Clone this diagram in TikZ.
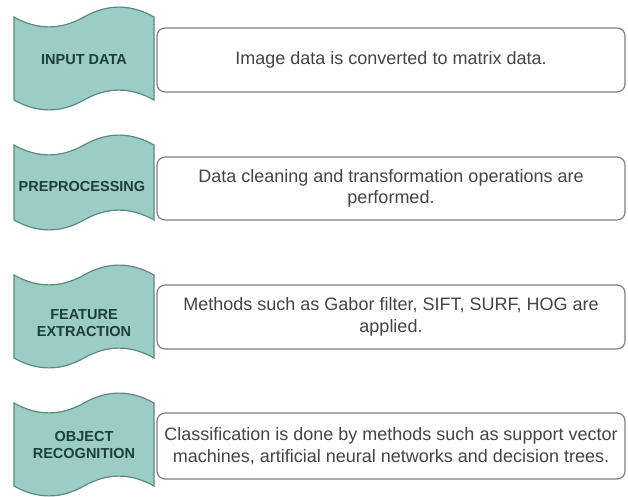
\documentclass[tikz,border=0pt]{standalone}
\usepackage{fontspec}
\setmainfont{Liberation Sans}
\definecolor{tapefill}{HTML}{9CCDC4}
\definecolor{tapeline}{HTML}{5B8A83}
\definecolor{tapetext}{HTML}{1B3F3B}
\definecolor{boxline}{HTML}{7F7F7F}
\definecolor{desctext}{HTML}{444444}
\newcommand\mytape[2]{%
\draw[tapestyle] (14,#1+11) .. controls (37.33,#1+24.2) and (60.67,#1+24.2) .. (84,#1+11)
  .. controls (107.33,#1-2.2) and (130.67,#1-2.2) .. (154,#1+11)
  -- (154,#2-11) .. controls (130.67,#2-24.2) and (107.33,#2-24.2) .. (84,#2-11)
  .. controls (60.67,#2+2.2) and (37.33,#2+2.2) .. (14,#2-11) -- cycle;}
\begin{document}
\begin{tikzpicture}[x=1bp,y=-1bp,
  tapestyle/.style={fill=tapefill,draw=tapeline,line width=1.2bp},
  lbl/.style={text=tapetext,font=\fontsize{14.5bp}{17.4bp}\selectfont\bfseries,align=center,inner sep=0pt},
  descbox/.style={draw=boxline,fill=white,line width=1.2bp,rounded corners=8bp,
    minimum width=468bp,text=desctext,align=center,inner sep=0pt,
    font=\fontsize{18bp}{21.6bp}\selectfont}]
\useasboundingbox[fill=white] (0,0) rectangle (628,497);
\mytape{6}{111}
\mytape{134}{231}
\mytape{264}{369}
\mytape{392}{497}
\node[lbl] (l1) at (84,60) {INPUT DATA};
\node[lbl] (l2) at (82,187) {PREPROCESSING};
\node[lbl] (l3) at (84,323) {FEATURE\\EXTRACTION};
\node[lbl] (l4) at (84,445) {OBJECT\\RECOGNITION};
\node[descbox,minimum height=64bp] (b1) at (391,60) {Image data is converted to matrix data.};
\node[descbox,minimum height=63bp] (b2) at (391,188.5) {Data cleaning and transformation operations are\\performed.};
\node[descbox,minimum height=64bp] (b3) at (391,317) {Methods such as Gabor filter, SIFT, SURF, HOG are\\applied.};
\node[descbox,minimum height=66bp] (b4) at (391,446) {Classification is done by methods such as support vector\\machines, artificial neural networks and decision trees.};
\end{tikzpicture}
\end{document}
